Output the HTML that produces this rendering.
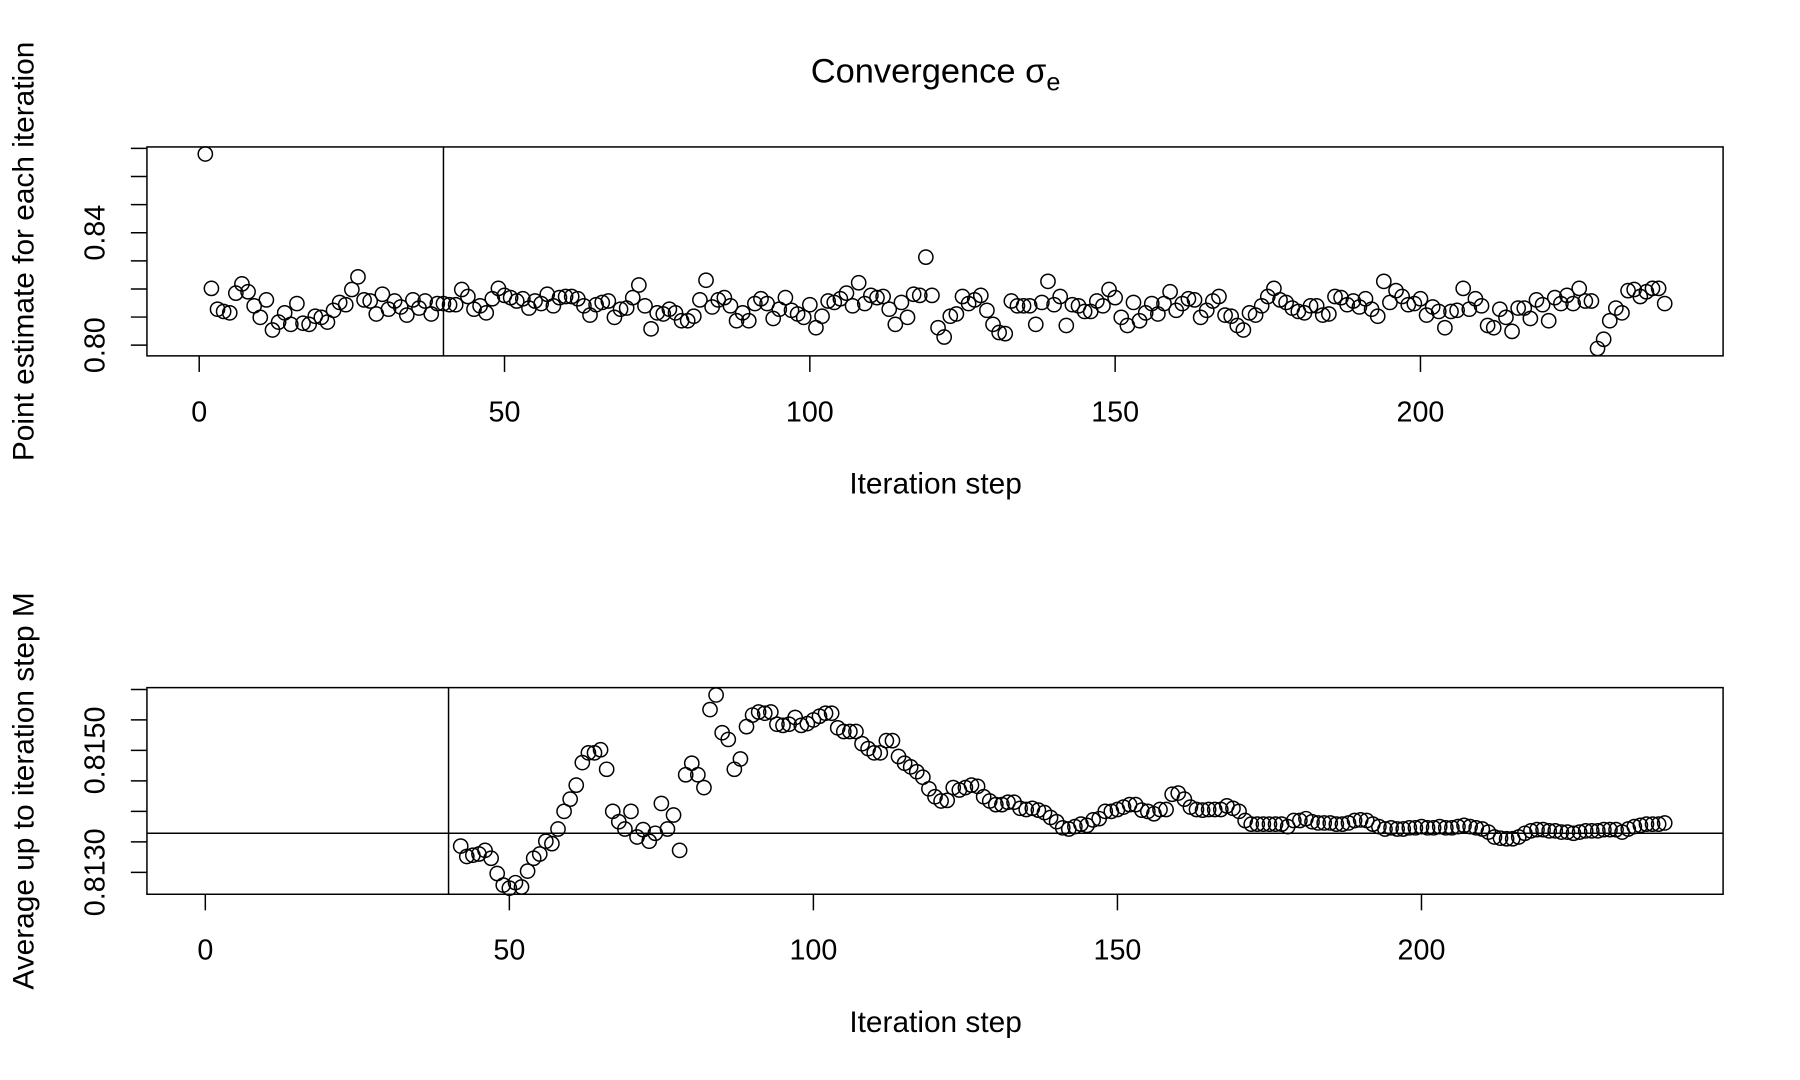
<!DOCTYPE html>
<html><head><meta charset="utf-8"><style>
html,body{margin:0;padding:0;background:#fff}
svg{display:block}
text{font-family:"Liberation Sans",sans-serif;fill:#000}
</style></head><body>
<svg id="chart" width="1800" height="1080" viewBox="0 0 1568 940.8" preserveAspectRatio="none" xmlns="http://www.w3.org/2000/svg">
<text x="815" y="72" font-size="30" text-anchor="middle">Convergence σ<tspan font-size="22" dy="7">e</tspan></text>
<g id="top"></g>
<g id="bot"></g>
</svg>
<script>
const topSteps = Array.from({length:240},(_, k)=>k+1);
const topValues = [
.8680,.8202,.8128,.8120,.8115,.8185,.8218,.8190,.8140,.8099,
.8161,.8054,.8082,.8115,.8074,.8148,.8078,.8074,.8103,.8099,
.8082,.8124,.8152,.8144,.8198,.8243,.8161,.8157,.8111,.8181,
.8128,.8157,.8136,.8107,.8161,.8132,.8157,.8111,.8148,.8148,
.8144,.8144,.8198,.8173,.8128,.8140,.8115,.8165,.8202,.8177,
.8169,.8157,.8165,.8132,.8157,.8148,.8181,.8140,.8169,.8173,
.8173,.8165,.8140,.8107,.8144,.8152,.8157,.8099,.8128,.8132,
.8169,.8214,.8140,.8058,.8115,.8111,.8128,.8115,.8087,.8087,
.8103,.8161,.8231,.8136,.8161,.8169,.8140,.8087,.8115,.8087,
.8148,.8165,.8148,.8095,.8128,.8169,.8124,.8111,.8099,.8144,
.8062,.8103,.8157,.8152,.8165,.8185,.8140,.8222,.8148,.8177,
.8169,.8173,.8128,.8074,.8152,.8099,.8181,.8177,.8313,.8177,
.8062,.8029,.8103,.8111,.8173,.8148,.8161,.8177,.8124,.8074,
.8045,.8041,.8157,.8140,.8140,.8140,.8074,.8152,.8227,.8144,
.8173,.8070,.8144,.8140,.8120,.8120,.8157,.8140,.8198,.8169,
.8099,.8070,.8152,.8087,.8115,.8148,.8111,.8148,.8190,.8124,
.8148,.8165,.8161,.8099,.8124,.8157,.8173,.8107,.8103,.8070,
.8054,.8115,.8107,.8140,.8173,.8202,.8161,.8152,.8132,.8120,
.8115,.8140,.8140,.8107,.8111,.8173,.8169,.8144,.8157,.8136,
.8165,.8128,.8103,.8227,.8152,.8194,.8173,.8144,.8148,.8165,
.8107,.8136,.8120,.8062,.8120,.8124,.8202,.8128,.8165,.8140,
.8070,.8062,.8128,.8099,.8049,.8132,.8132,.8095,.8161,.8144,
.8087,.8169,.8148,.8177,.8148,.8202,.8157,.8157,.7988,.8021,
.8087,.8132,.8115,.8194,.8198,.8173,.8190,.8202,.8202,.8148];
const botSteps = Array.from({length:199},(_, k)=>k+42);
const botValues = [
.81343,.81326,.81328,.81330,.81336,.81323,.81298,.81279,.81274,.81283,
.81276,.81302,.81323,.81330,.81351,.81347,.81371,.81400,.81420,.81443,
.81480,.81496,.81496,.81501,.81469,.81400,.81383,.81371,.81400,.81358,
.81370,.81351,.81364,.81413,.81371,.81394,.81336,.81460,.81479,.81460,
.81439,.81567,.81591,.81529,.81518,.81469,.81486,.81539,.81558,.81563,
.81561,.81563,.81543,.81541,.81543,.81554,.81541,.81544,.81550,.81556,
.81561,.81561,.81537,.81531,.81531,.81531,.81511,.81503,.81496,.81496,
.81516,.81516,.81490,.81479,.81473,.81465,.81456,.81437,.81424,.81417,
.81418,.81439,.81435,.81439,.81443,.81441,.81424,.81417,.81411,.81411,
.81415,.81415,.81405,.81403,.81405,.81402,.81398,.81390,.81383,.81373,
.81371,.81375,.81379,.81377,.81386,.81388,.81400,.81400,.81403,.81407,
.81411,.81411,.81402,.81400,.81396,.81403,.81403,.81428,.81430,.81420,
.81407,.81403,.81402,.81403,.81403,.81403,.81409,.81405,.81400,.81385,
.81379,.81379,.81379,.81379,.81379,.81379,.81375,.81385,.81385,.81388,
.81383,.81381,.81381,.81381,.81379,.81379,.81381,.81385,.81386,.81385,
.81379,.81375,.81371,.81373,.81371,.81371,.81373,.81373,.81375,.81373,
.81373,.81375,.81373,.81373,.81375,.81377,.81375,.81373,.81371,.81366,
.81358,.81356,.81355,.81355,.81358,.81364,.81368,.81370,.81370,.81368,
.81368,.81366,.81366,.81364,.81366,.81368,.81368,.81368,.81370,.81370,
.81370,.81366,.81371,.81375,.81377,.81379,.81379,.81379,.81381];
const xTicks = [0,50,100,150,200];
const topYTicks = [0.80,0.81,0.82,0.83,0.84,0.85,0.86,0.87];
const topYLabels = ["0.80","0.84"];
const botYTicks = [0.8130,0.8135,0.8140,0.8145,0.8150,0.8155,0.8160];
const botYLabels = ["0.8130","0.8150"];
const burnIn = [40];
const overallMean = [0.81364];

const NS="http://www.w3.org/2000/svg";
function mk(p,tag,attrs){const e=document.createElementNS(NS,tag);for(const k in attrs)e.setAttribute(k,attrs[k]);p.appendChild(e);return e;}
function scale(d0,d1,r0,r1){return v=>r0+(v-d0)/(d1-d0)*(r1-r0);}

function panel(g,o){
  const L=128,R=1501,T=o.top,B=o.bot;
  const x=scale(o.xd[0],o.xd[1],L,R), y=scale(o.yd[0],o.yd[1],B,T);
  const box=mk(g,'rect',{x:L,y:T,width:R-L,height:B-T,fill:'none',stroke:'#000','stroke-width':1.3});
  
  
  o.xticks.forEach(t=>{
    const l=mk(g,'line',{x1:x(t),x2:x(t),y1:B,y2:B+14,stroke:'#000','stroke-width':1.3});
    
    
    const tx=mk(g,'text',{x:x(t),y:B+57,'font-size':25,'text-anchor':'middle'});tx.textContent=t;
    
    
  });
  o.yticks.forEach(t=>{
    const l=mk(g,'line',{x1:L-14,x2:L,y1:y(t),y2:y(t),stroke:'#000','stroke-width':1.3});
    
    
  });
  o.ylabels.forEach(s=>{
    const v=parseFloat(s);
    const tx=mk(g,'text',{x:0,y:0,'font-size':25,'text-anchor':'middle',transform:`translate(${L-37},${y(v)}) rotate(-90)`});tx.textContent=s;
    
    
  });
  const xt=mk(g,'text',{x:815,y:B+120,'font-size':26,'text-anchor':'middle'});xt.textContent='Iteration step';
  
  
  const yt=mk(g,'text',{x:0,y:0,'font-size':26,'text-anchor':'middle',transform:`translate(29,${o.ytitleY}) rotate(-90)`});yt.textContent=o.ytitle;
  
  
  burnIn.forEach(b=>{
    const l=mk(g,'line',{x1:x(b),x2:x(b),y1:T,y2:B,stroke:'#000','stroke-width':1.3});
    
    
  });
  if(o.hline) o.hline.forEach(h=>{
    const l=mk(g,'line',{x1:L,x2:R,y1:y(h),y2:y(h),stroke:'#000','stroke-width':1.3});
    
    
  });
  o.xs.forEach((s,i)=>{
    const c=mk(g,'circle',{cx:x(s),cy:y(o.vs[i]),r:6.2,fill:'none',stroke:'#000','stroke-width':1.3});
    
    
  });
}
panel(document.getElementById('top'),{top:128,bot:310,xd:[-8.56,249.56],yd:[0.7962,0.8705],xticks:xTicks,yticks:topYTicks,ylabels:topYLabels,ytitle:'Point estimate for each iteration',ytitleY:219,xs:topSteps,vs:topValues});
panel(document.getElementById('bot'),{top:599,bot:779,xd:[-9.6,249.6],yd:[0.81264,0.81603],xticks:xTicks,yticks:botYTicks,ylabels:botYLabels,ytitle:'Average up to iteration step M',ytitleY:689,hline:overallMean,xs:botSteps,vs:botValues});
</script>
</body></html>
